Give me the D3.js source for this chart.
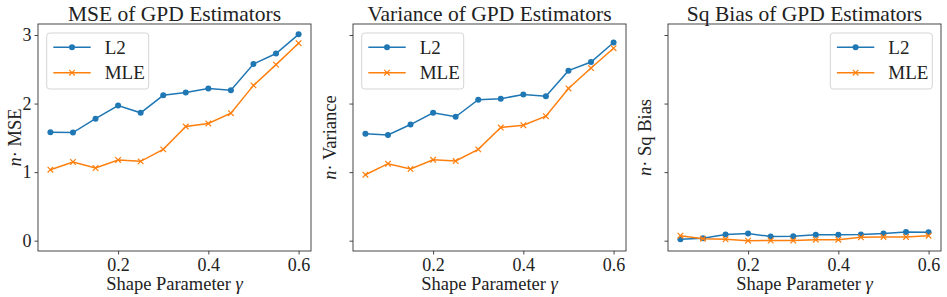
<!DOCTYPE html>
<html>
<head>
<meta charset="utf-8">
<script src="https://cdn.jsdelivr.net/npm/d3@7"></script>
<style>
  body { margin: 0; background: #fff; }
  svg { display: block; }
  text { font-family: "Liberation Serif", "DejaVu Serif", serif; fill: #222; }
  .axis path, .axis line { stroke: #333; stroke-width: 0.9px; }
  .axis text { font-size: 18px; fill: #222; }
</style>
</head>
<body>
<svg id="chart" width="947" height="297"></svg>
<script>
// shape parameter values on the x axis
var gammas = [0.05, 0.10, 0.15, 0.20, 0.25, 0.30, 0.35, 0.40, 0.45, 0.50, 0.55, 0.60];

// n * MSE
var mseL2  = [1.58, 1.577, 1.78, 1.97, 1.865, 2.12, 2.16, 2.22, 2.196, 2.577, 2.73, 3.01];
var mseMLE = [1.035, 1.148, 1.06, 1.177, 1.157, 1.332, 1.665, 1.709, 1.86, 2.265, 2.568, 2.88];

// n * variance
var varL2  = [1.558, 1.543, 1.694, 1.865, 1.807, 2.056, 2.07, 2.133, 2.108, 2.48, 2.606, 2.89];
var varMLE = [0.962, 1.123, 1.045, 1.18, 1.162, 1.332, 1.65, 1.684, 1.816, 2.22, 2.518, 2.807];

// n * squared bias
var biasL2  = [0.02, 0.034, 0.09, 0.106, 0.06, 0.063, 0.088, 0.088, 0.09, 0.103, 0.128, 0.122];
var biasMLE = [0.073, 0.029, 0.02, 0.0, 0.002, 0.002, 0.015, 0.015, 0.049, 0.054, 0.054, 0.073];

var titles = ["MSE of GPD Estimators", "Variance of GPD Estimators", "Sq Bias of GPD Estimators"];
var yNames = ["MSE", "Variance", "Sq Bias"];
var seriesNames = ["L2", "MLE"];
var xTicks = [0.2, 0.4, 0.6];
var yTicks = [0, 1, 2, 3];
var xLabel = "Shape Parameter ";

function drawChart() {
  var panels = [
    {title: titles[0], yName: yNames[0], l2: mseL2, mle: mseMLE, legendRight: false, showY: true},
    {title: titles[1], yName: yNames[1], l2: varL2, mle: varMLE, legendRight: false, showY: false},
    {title: titles[2], yName: yNames[2], l2: biasL2, mle: biasMLE, legendRight: true, showY: false}
  ];

  var colors = ["#1f77b4", "#ff7f0e"];

  var svg = d3.select("#chart");
  var panelW = 273, panelH = 227, panelTop = 24;
  var lefts = [38, 353, 668];

  // shared axes, matplotlib style 5% margins
  var allY = mseL2.concat(mseMLE, varL2, varMLE, biasL2, biasMLE);
  var yMin = d3.min(allY), yMax = d3.max(allY);
  var yPad = (yMax - yMin) * 0.05;
  var xPad = (d3.max(gammas) - d3.min(gammas)) * 0.05;

  var x = d3.scaleLinear()
            .domain([d3.min(gammas) - xPad, d3.max(gammas) + xPad])
            .range([0, panelW]);
  var y = d3.scaleLinear()
            .domain([yMin - yPad, yMax + yPad])
            .range([panelH, 0]);

  var line = d3.line()
               .x((d, i) => x(gammas[i]))
               .y(d => y(d));

  function drawMarker(g, kind, cx, cy, color) {
    if (kind === 0) {
      g.append("circle")
        .attr("cx", cx).attr("cy", cy).attr("r", 3)
        .attr("fill", color);
    } else {
      var s = 2.8;
      g.append("path")
        .attr("d", "M" + (cx - s) + "," + (cy - s) + "L" + (cx + s) + "," + (cy + s) +
                   "M" + (cx - s) + "," + (cy + s) + "L" + (cx + s) + "," + (cy - s))
        .attr("stroke", color)
        .attr("stroke-width", 1.2)
        .attr("fill", "none");
    }
  }

  panels.forEach(function(p, k) {
    var g = svg.append("g")
               .attr("transform", "translate(" + lefts[k] + "," + panelTop + ")");

    // title
    g.append("text")
      .attr("x", panelW / 2)
      .attr("y", -3.5)
      .attr("font-size", "21.5px")
      .style("text-anchor", "middle")
      .text(p.title);

    // axes
    g.append("g")
      .attr("class", "axis")
      .attr("transform", "translate(0," + panelH + ")")
      .call(d3.axisBottom(x).tickValues(xTicks).tickSize(3.5).tickPadding(4)
              .tickFormat(d3.format(".1f")))
      .call(a => a.attr("font-family", null).attr("font-size", null))
      .call(a => a.select(".domain").remove());

    g.append("g")
      .attr("class", "axis")
      .call(d3.axisLeft(y).tickValues(yTicks).tickSize(3.5).tickPadding(3)
              .tickFormat(p.showY ? d3.format("d") : ""))
      .call(a => a.attr("font-family", null).attr("font-size", null))
      .call(a => a.select(".domain").remove());

    // frame
    g.append("rect")
      .attr("width", panelW)
      .attr("height", panelH)
      .attr("fill", "none")
      .attr("stroke", "#333")
      .attr("stroke-width", 0.9);

    // x label
    var xl = g.append("text")
      .attr("x", panelW / 2)
      .attr("y", panelH + 39)
      .attr("font-size", "18.5px")
      .style("text-anchor", "middle");
    xl.append("tspan").text(xLabel);
    xl.append("tspan").attr("font-style", "italic").text("\u03b3");

    // y label
    var yl = g.append("text")
      .attr("transform", "translate(-17," + panelH / 2 + ") rotate(-90)")
      .attr("font-size", "18.5px")
      .style("text-anchor", "middle");
    yl.append("tspan").attr("font-style", "italic").text("n");
    yl.append("tspan").text("\u00b7 " + p.yName);

    // series
    [p.l2, p.mle].forEach(function(vals, s) {
      g.append("path")
        .datum(vals)
        .attr("fill", "none")
        .attr("stroke", colors[s])
        .attr("stroke-width", 1.5)
        .attr("d", line);
      vals.forEach(function(v, i) {
        drawMarker(g, s, x(gammas[i]), y(v), colors[s]);
      });
    });

    // legend
    var lw = 102, lh = 56;
    var lx = p.legendRight ? panelW - 8.7 - lw : 8.7;
    var lg = g.append("g").attr("transform", "translate(" + lx + ",9)");
    lg.append("rect")
      .attr("width", lw).attr("height", lh)
      .attr("rx", 3)
      .attr("fill", "#fff").attr("fill-opacity", 0.8)
      .attr("stroke", "#d5d5d5").attr("stroke-width", 1);
    seriesNames.forEach(function(name, s) {
      var ly = 14.3 + s * 25.4;
      lg.append("line")
        .attr("x1", 6.6).attr("x2", 44)
        .attr("y1", ly).attr("y2", ly)
        .attr("stroke", colors[s]).attr("stroke-width", 1.5);
      drawMarker(lg, s, 25.3, ly, colors[s]);
      lg.append("text")
        .attr("x", 58)
        .attr("y", ly + 6.5)
        .attr("font-size", "19px")
        .text(name);
    });
  });
}

drawChart();
</script>
</body>
</html>
